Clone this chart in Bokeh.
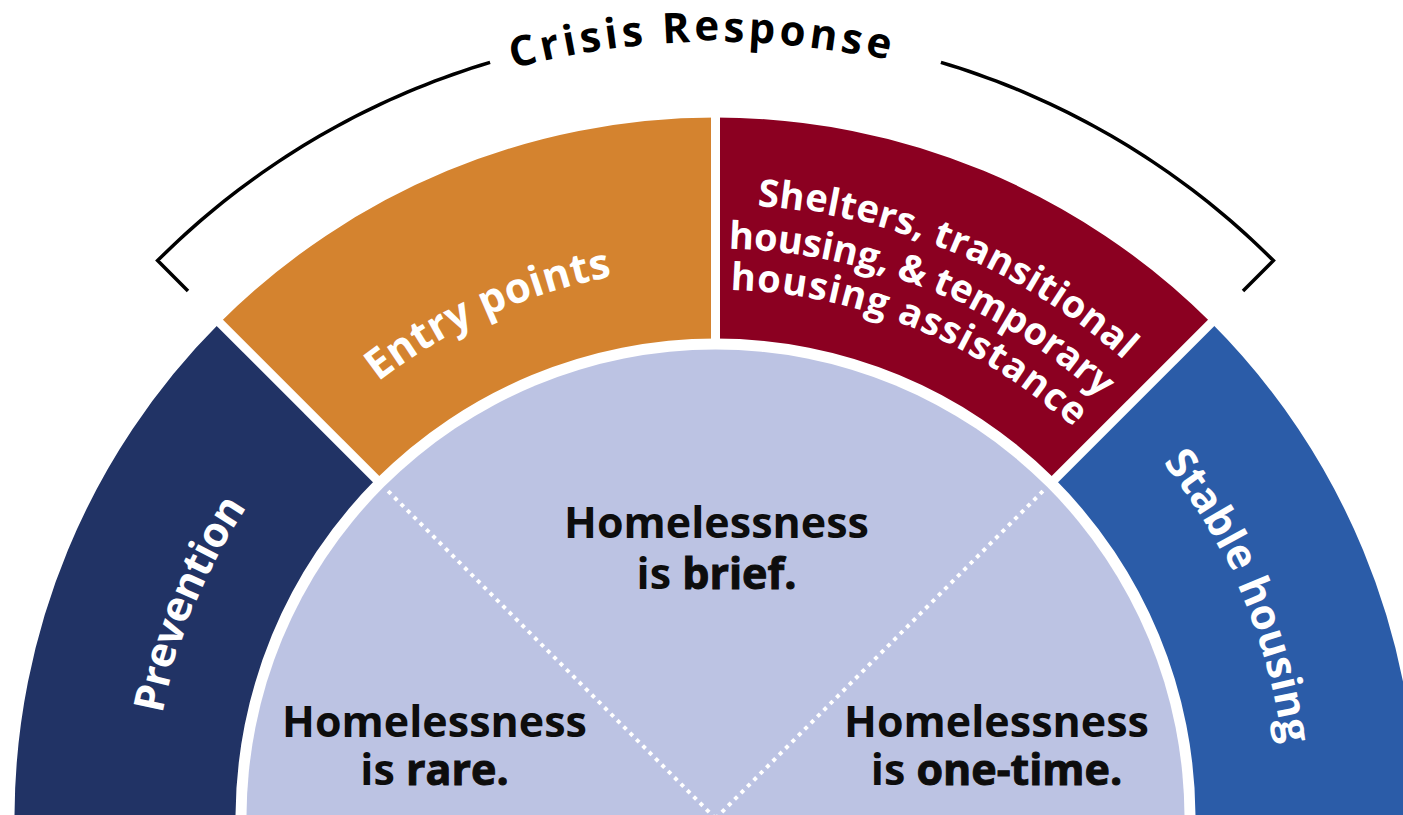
import os, struct, math
from bokeh.plotting import figure
from bokeh.models import Range1d, ColumnDataSource
from bokeh.core.properties import value
from bokeh.embed import file_html
from bokeh.resources import INLINE

# ---------------- data ----------------
segment_names = ["Prevention", "Entry points", "Shelters", "Stable housing"]
segment_label_lines = [
    ["Prevention"],
    ["Entry points"],
    ["Shelters, transitional", "housing, & temporary", "housing assistance"],
    ["Stable housing"],
]
segment_start_deg = [135, 90, 45, 0]
segment_end_deg = [180, 135, 90, 45]
segment_colors = ["#213365", "#d4832f", "#8b0021", "#2b5ca8"]

outcome_first = ["Homelessness", "Homelessness", "Homelessness"]
outcome_is = ["is", "is", "is"]
outcome_word = ["rare.", "brief.", "one-time."]
outcome_divider_deg = [135, 45]

bracket_title = "Crisis Response"
bracket_from_deg = 135
bracket_to_deg = 45

# ---------------- layout / style ----------------
W, H = 1403, 815
CX, CY = 715.0, -3.0
R_DISC = 469
R_IN, R_OUT = 480, 701
DISC_COLOR = "#bcc3e3"
FONT = "Open Sans"
BASE_SHIFT = 0.34   # renderer places the alphabetic baseline ~0.34em low

# per label line: (baseline radius, start angle, end angle, font px)
label_layout = [
    [(565, 169.3, 146.4, 42)],
    [(554, 127.7, 100.8, 42)],
    [(616, 86.1, 48.3, 38), (572, 88.7, 47.5, 38), (531, 88.4, 47.5, 38)],
    [(574, 38.5, 7.5, 42)],
]
title_layout = (779, 105.1, 77.15, 42)
outcome_cx = [434, 716, 996]
outcome_y1 = [H - 735, H - 536, H - 735]
outcome_y2 = [H - 783, H - 587, H - 783]
INNER_FS = 43

# ---------------- font metrics ----------------
FALLBACK = {' ': .26, 'a': .59, 'b': .62, 'c': .51, 'd': .62, 'e': .58, 'f': .38, 'g': .56,
            'h': .64, 'i': .30, 'l': .30, 'm': .96, 'n': .64, 'o': .62, 'p': .62, 'r': .44,
            's': .49, 't': .43, 'u': .64, 'v': .56, 'y': .56, 'S': .56, 'C': .63, 'R': .66,
            'E': .54, 'P': .62, 'H': .74, ',': .29, '&': .76, '.': .29, '-': .32}


def find_font():
    roots = ["/usr/share/fonts", "/usr/local/share/fonts",
             os.path.expanduser("~/.fonts"), os.path.expanduser("~/.local/share/fonts")]
    found = {}
    for root in roots:
        if not os.path.isdir(root):
            continue
        for dp, dn, fns in os.walk(root):
            for f in fns:
                found.setdefault(f.lower(), os.path.join(dp, f))
    if "opensans-bold.ttf" in found:
        return found["opensans-bold.ttf"], 1.0
    for k, v in found.items():
        if k.startswith("opensans") and k.endswith(".ttf") and "italic" not in k:
            return v, 1.045
    return None, 1.0


def load_widths(path):
    data = open(path, "rb").read()
    n = struct.unpack(">H", data[4:6])[0]
    tables = {}
    for i in range(n):
        tag, cs, off, ln = struct.unpack(">4sIII", data[12 + 16 * i:28 + 16 * i])
        tables[tag.decode("latin1")] = off
    head = tables["head"]
    upem = struct.unpack(">H", data[head + 18:head + 20])[0]
    hhea = tables["hhea"]
    nhm = struct.unpack(">H", data[hhea + 34:hhea + 36])[0]
    hm = tables["hmtx"]
    adv = [struct.unpack(">H", data[hm + 4 * i:hm + 4 * i + 2])[0] for i in range(nhm)]
    cm = tables["cmap"]
    nsub = struct.unpack(">H", data[cm + 2:cm + 4])[0]
    sub = None
    for i in range(nsub):
        pid, eid, off = struct.unpack(">HHI", data[cm + 4 + 8 * i:cm + 12 + 8 * i])
        fmt = struct.unpack(">H", data[cm + off:cm + off + 2])[0]
        if fmt == 4 and pid in (0, 3):
            sub = cm + off
            break
    segx2 = struct.unpack(">H", data[sub + 6:sub + 8])[0]
    seg = segx2 // 2
    ends = struct.unpack(">%dH" % seg, data[sub + 14:sub + 14 + segx2])
    starts = struct.unpack(">%dH" % seg, data[sub + 16 + segx2:sub + 16 + 2 * segx2])
    deltas = struct.unpack(">%dh" % seg, data[sub + 16 + 2 * segx2:sub + 16 + 3 * segx2])
    rpos = sub + 16 + 3 * segx2
    roffs = struct.unpack(">%dH" % seg, data[rpos:rpos + segx2])

    def gid(c):
        for i in range(seg):
            if starts[i] <= c <= ends[i]:
                if roffs[i] == 0:
                    return (c + deltas[i]) & 0xFFFF
                addr = rpos + 2 * i + roffs[i] + 2 * (c - starts[i])
                g = struct.unpack(">H", data[addr:addr + 2])[0]
                return (g + deltas[i]) & 0xFFFF if g else 0
        return 0

    out = {}
    for ch in set("".join(FALLBACK.keys()) + "ABCDEFGHIJKLMNOPQRSTUVWXYZabcdefghijklmnopqrstuvwxyz,.&- "):
        g = gid(ord(ch))
        out[ch] = adv[min(g, nhm - 1)] / upem
    return out


WIDTHS = dict(FALLBACK)
try:
    fp, scale = find_font()
    if fp:
        w = load_widths(fp)
        WIDTHS = {k: v * scale for k, v in w.items()}
except Exception:
    WIDTHS = dict(FALLBACK)


def tw(s, fs):
    return sum(WIDTHS.get(c, 0.55) for c in s) * fs


def arc_chars(text, r, a0, a1, fs):
    adv = [WIDTHS.get(c, 0.55) * fs for c in text]
    nat = sum(adv)
    L = math.radians(a0 - a1) * r
    trk = (L - nat) / (len(text) - 1) if len(text) > 1 else 0
    rr = r + BASE_SHIFT * fs
    xs, ys, angs, chs = [], [], [], []
    s = 0.0
    for i, ch in enumerate(text):
        mid = s + adv[i] / 2
        th = math.radians(a0) - mid / r
        s += adv[i] + trk
        if ch == " ":
            continue
        xs.append(CX + rr * math.cos(th))
        ys.append(CY + rr * math.sin(th))
        angs.append(th - math.pi / 2)
        chs.append(ch)
    return xs, ys, angs, chs


# ---------------- figure ----------------
p = figure(width=W, height=H, x_range=Range1d(0, W), y_range=Range1d(0, H),
           output_backend="svg", toolbar_location=None, min_border=0,
           background_fill_color="white", border_fill_color="white")
p.axis.visible = False
p.xgrid.visible = False
p.ygrid.visible = False
p.outline_line_color = None

# outer ring segments
seg_src = ColumnDataSource(dict(
    x=[CX] * 4, y=[CY] * 4,
    start=[math.radians(a) for a in segment_start_deg],
    end=[math.radians(a) for a in segment_end_deg],
    color=segment_colors, name=segment_names))
p.annular_wedge(x="x", y="y", inner_radius=R_IN, outer_radius=R_OUT,
                start_angle="start", end_angle="end", fill_color="color",
                line_color=None, source=seg_src)

# white gaps between segments
bounds = sorted(set(segment_start_deg + segment_end_deg) - {0, 180})
p.segment(x0=[CX + (R_DISC) * math.cos(math.radians(a)) for a in bounds],
          y0=[CY + (R_DISC) * math.sin(math.radians(a)) for a in bounds],
          x1=[CX + (R_OUT + 6) * math.cos(math.radians(a)) for a in bounds],
          y1=[CY + (R_OUT + 6) * math.sin(math.radians(a)) for a in bounds],
          line_color="white", line_width=9)

# inner half disc
p.wedge(x=[CX], y=[CY], radius=R_DISC, start_angle=0, end_angle=math.pi,
        fill_color=DISC_COLOR, line_color=None)

# dotted dividers
p.segment(x0=[CX] * len(outcome_divider_deg), y0=[CY] * len(outcome_divider_deg),
          x1=[CX + (R_DISC - 4) * math.cos(math.radians(a)) for a in outcome_divider_deg],
          y1=[CY + (R_DISC - 4) * math.sin(math.radians(a)) for a in outcome_divider_deg],
          line_color="white", line_width=4, line_dash="4 5")

# ring labels along arcs
for lines, lay in zip(segment_label_lines, label_layout):
    for txt, (r, a0, a1, fs) in zip(lines, lay):
        xs, ys, angs, chs = arc_chars(txt, r, a0, a1, fs)
        p.text(x=xs, y=ys, text=chs, angle=angs, text_align="center",
               text_baseline="alphabetic", text_color="white",
               text_font=value(FONT), text_font_style="bold",
               text_font_size=value("%dpx" % fs))

# bracket
RB, RT = 789, 746
left_angles = [bracket_from_deg - i * (bracket_from_deg - 106.6) / 40 for i in range(41)]
right_angles = [73.4 - i * (73.4 - bracket_to_deg) / 40 for i in range(41)]
lx = [CX + RT * math.cos(math.radians(bracket_from_deg))] + [CX + RB * math.cos(math.radians(a)) for a in left_angles]
ly = [CY + RT * math.sin(math.radians(bracket_from_deg))] + [CY + RB * math.sin(math.radians(a)) for a in left_angles]
rx = [CX + RB * math.cos(math.radians(a)) for a in right_angles] + [CX + RT * math.cos(math.radians(bracket_to_deg))]
ry = [CY + RB * math.sin(math.radians(a)) for a in right_angles] + [CY + RT * math.sin(math.radians(bracket_to_deg))]
p.multi_line(xs=[lx, rx], ys=[ly, ry], line_color="black", line_width=3.5, line_join="miter")

r, a0, a1, fs = title_layout
xs, ys, angs, chs = arc_chars(bracket_title, r, a0, a1, fs)
p.text(x=xs, y=ys, text=chs, angle=angs, text_align="center", text_baseline="alphabetic",
       text_color="black", text_font=value(FONT), text_font_style="bold",
       text_font_size=value("%dpx" % fs))

# inner outcome texts
INK = "#0d0d0d"
dy = BASE_SHIFT * INNER_FS
p.text(x=outcome_cx, y=[v + dy for v in outcome_y1], text=outcome_first, text_align="center",
       text_baseline="alphabetic", text_color=INK, text_font=value(FONT),
       text_font_style="bold", text_font_size=value("%dpx" % INNER_FS))
is_x, word_x = [], []
for cx, a, b in zip(outcome_cx, outcome_is, outcome_word):
    total = tw(a + " " + b, INNER_FS)
    x0 = cx - total / 2
    is_x.append(x0)
    word_x.append(x0 + tw(a + " ", INNER_FS))
y2 = [v + dy for v in outcome_y2]
p.text(x=is_x, y=y2, text=outcome_is, text_align="left",
       text_baseline="alphabetic", text_color=INK, text_font=value(FONT),
       text_font_style="bold", text_font_size=value("%dpx" % INNER_FS))
heavy = dict(x=word_x, y=y2, text=outcome_word, text_align="left",
             text_baseline="alphabetic", text_color=INK, text_font=value(FONT),
             text_font_style="bold", text_font_size=value("%dpx" % INNER_FS))
try:
    p.text(text_outline_color=INK, **heavy)
except Exception:
    p.text(**heavy)

open("out.html", "w").write(file_html(p, INLINE))
